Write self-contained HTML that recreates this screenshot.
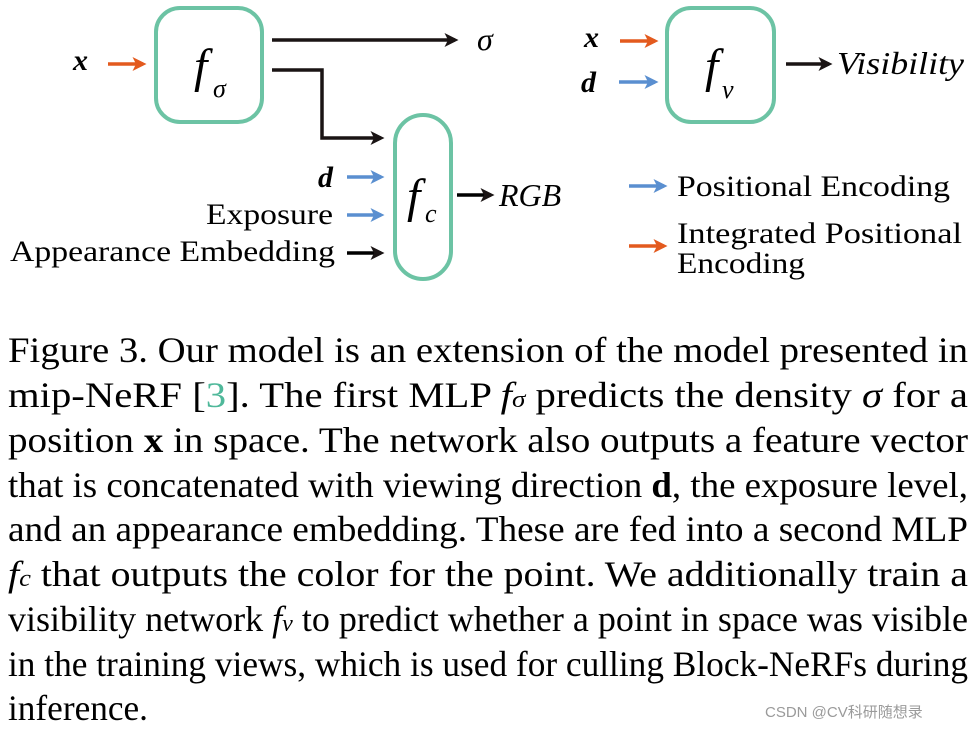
<!DOCTYPE html>
<html><head><meta charset="utf-8"><style>
html,body{margin:0;padding:0;background:#fff;}
svg{display:block}
.cap{font-family:"Liberation Serif",serif;font-size:36px;fill:#000}
.lab{font-family:"Liberation Serif",serif;fill:#000}
</style></head><body>
<svg width="975" height="731" viewBox="0 0 975 731" xmlns="http://www.w3.org/2000/svg">
<defs>
<marker id="ak" markerWidth="4" markerHeight="4" refX="3" refY="2" orient="auto" markerUnits="strokeWidth"><path d="M0,0 L4,2 L0,4 L1,2 z" fill="#1a1414"/></marker>
<marker id="ab" markerWidth="4" markerHeight="4" refX="3" refY="2" orient="auto" markerUnits="strokeWidth"><path d="M0,0 L4,2 L0,4 L1,2 z" fill="#5a8fd0"/></marker>
<marker id="ao" markerWidth="4" markerHeight="4" refX="3" refY="2" orient="auto" markerUnits="strokeWidth"><path d="M0,0 L4,2 L0,4 L1,2 z" fill="#e35a1e"/></marker>
</defs>
<g fill="none" stroke="#6cc3a4" stroke-width="4">
<rect x="156" y="8" width="106" height="114" rx="24"/>
<rect x="395" y="115" width="56" height="164" rx="28"/>
<rect x="667" y="8" width="107" height="114" rx="24"/>
</g>
<g stroke-width="3.5" fill="none">
<line x1="108" y1="64" x2="143" y2="64" stroke="#e35a1e" marker-end="url(#ao)"/>
<line x1="272" y1="40" x2="455" y2="40" stroke="#1a1414" marker-end="url(#ak)"/>
<polyline points="272,70 322,70 322,138 381,138" stroke="#1a1414" marker-end="url(#ak)"/>
<line x1="347" y1="177" x2="381" y2="177" stroke="#5a8fd0" marker-end="url(#ab)"/>
<line x1="347" y1="215" x2="381" y2="215" stroke="#5a8fd0" marker-end="url(#ab)"/>
<line x1="347" y1="253" x2="381" y2="253" stroke="#000" marker-end="url(#ak)"/>
<line x1="457" y1="195" x2="491" y2="195" stroke="#000" marker-end="url(#ak)"/>
<line x1="620" y1="41" x2="655" y2="41" stroke="#e35a1e" marker-end="url(#ao)"/>
<line x1="619" y1="82" x2="655" y2="82" stroke="#5a8fd0" marker-end="url(#ab)"/>
<line x1="786" y1="64" x2="829" y2="64" stroke="#1a1414" marker-end="url(#ak)"/>
<line x1="629" y1="186" x2="664" y2="186" stroke="#5a8fd0" marker-end="url(#ab)"/>
<line x1="629" y1="246" x2="664" y2="246" stroke="#e35a1e" marker-end="url(#ao)"/>
</g>
<g class="lab" font-style="italic">
<text x="73" y="70" font-size="30" font-weight="bold">x</text>
<text x="194" y="82" font-size="48">f</text><text x="213" y="97" font-size="26">σ</text>
<text x="477" y="50" font-size="32">σ</text>
<text x="318" y="187" font-size="30" font-weight="bold">d</text>
<text x="407" y="212" font-size="48">f</text><text x="425" y="222" font-size="26">c</text>
<text x="499" y="206" font-size="32">RGB</text>
<text x="584" y="47" font-size="30" font-weight="bold">x</text>
<text x="581" y="92" font-size="30" font-weight="bold">d</text>
<text x="705" y="82" font-size="48">f</text><text x="722" y="98" font-size="26">v</text>
<text x="837" y="74" font-size="32" textLength="127" lengthAdjust="spacingAndGlyphs">Visibility</text>
</g>
<g class="lab" font-size="30">
<text x="206" y="224" textLength="127" lengthAdjust="spacingAndGlyphs">Exposure</text>
<text x="10" y="261" textLength="325" lengthAdjust="spacingAndGlyphs">Appearance Embedding</text>
<text x="677" y="196" textLength="273" lengthAdjust="spacingAndGlyphs">Positional Encoding</text>
<text x="677" y="243" textLength="285" lengthAdjust="spacingAndGlyphs">Integrated Positional</text>
<text x="677" y="273" textLength="128" lengthAdjust="spacingAndGlyphs">Encoding</text>
</g>
<g class="cap">
<text x="8" y="362" textLength="960" lengthAdjust="spacingAndGlyphs">Figure 3.  Our model is an extension of the model presented in</text>
<text x="8" y="407" textLength="960" lengthAdjust="spacingAndGlyphs">mip-NeRF [<tspan fill="#4fb89a">3</tspan>].  The first MLP <tspan font-style="italic">f</tspan><tspan font-style="italic" font-size="24">σ</tspan> predicts the density <tspan font-style="italic">σ</tspan> for a</text>
<text x="8" y="452" textLength="960" lengthAdjust="spacingAndGlyphs">position <tspan font-weight="bold">x</tspan> in space.  The network also outputs a feature vector</text>
<text x="8" y="497" textLength="960" lengthAdjust="spacingAndGlyphs">that is concatenated with viewing direction <tspan font-weight="bold">d</tspan>, the exposure level,</text>
<text x="8" y="541" textLength="960" lengthAdjust="spacingAndGlyphs">and an appearance embedding.  These are fed into a second MLP</text>
<text x="8" y="586" textLength="960" lengthAdjust="spacingAndGlyphs"><tspan font-style="italic">f</tspan><tspan font-style="italic" font-size="24">c</tspan> that outputs the color for the point.  We additionally train a</text>
<text x="8" y="631" textLength="960" lengthAdjust="spacingAndGlyphs">visibility network <tspan font-style="italic">f</tspan><tspan font-style="italic" font-size="24">v</tspan> to predict whether a point in space was visible</text>
<text x="8" y="676" textLength="960" lengthAdjust="spacingAndGlyphs">in the training views, which is used for culling Block-NeRFs during</text>
<text x="8" y="720" textLength="140" lengthAdjust="spacingAndGlyphs">inference.</text>
</g>
<text x="765" y="717" font-family="Liberation Sans, Noto Sans CJK SC, sans-serif" font-size="15" fill="#9a9a9a">CSDN @CV科研随想录</text>
</svg>
</body></html>
